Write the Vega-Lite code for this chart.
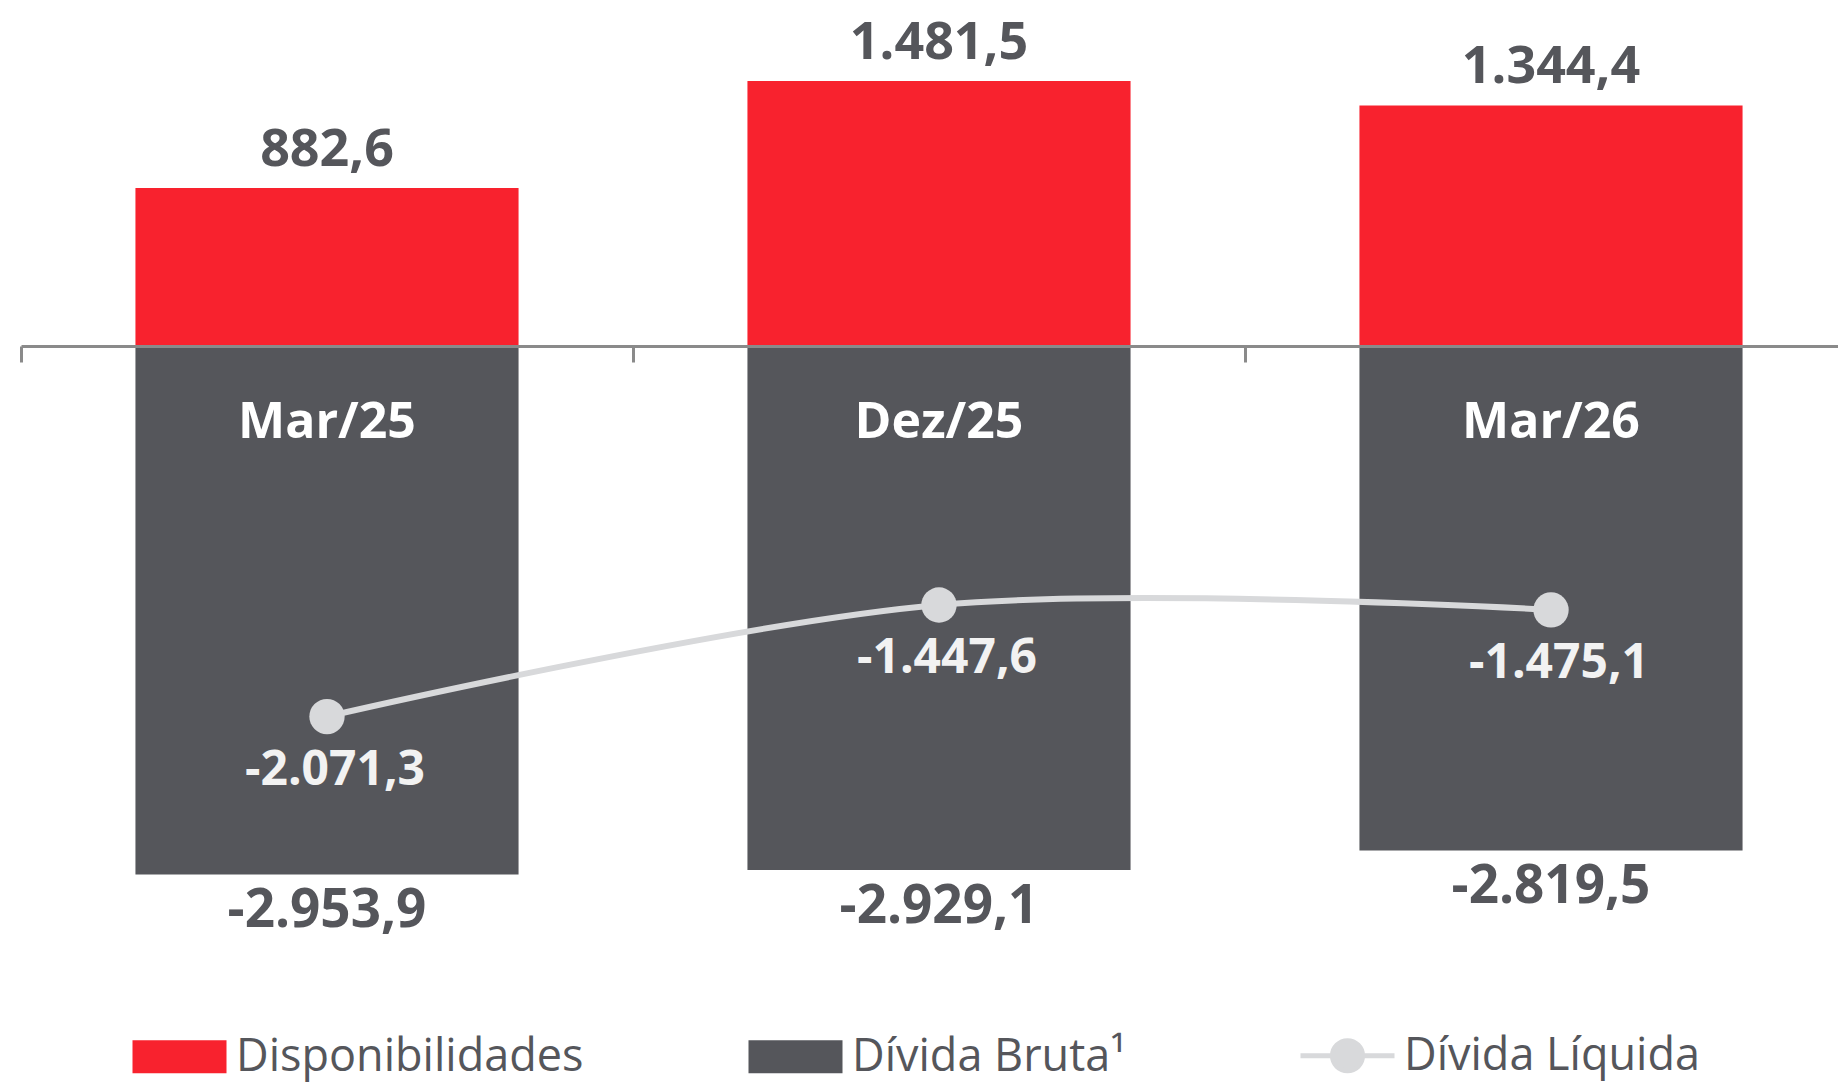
{
  "$schema": "https://vega.github.io/schema/vega-lite/v6.json",
  "width": 1838,
  "height": 1082,
  "autosize": {"type": "none"},
  "padding": 0,
  "background": "white",
  "config": {
    "view": {"stroke": null},
    "font": "Open Sans",
    "locale": {"number": {"decimal": ",", "thousands": ".", "grouping": [3], "currency": ["R$", ""], "minus": "-"}}
  },
  "data": {
    "values": [
      {"periodo": "Mar/25", "disp": 882.6, "bruta": -2953.9, "liquida": -2071.3},
      {"periodo": "Dez/25", "disp": 1481.5, "bruta": -2929.1, "liquida": -1447.6},
      {"periodo": "Mar/26", "disp": 1344.4, "bruta": -2819.5, "liquida": -1475.1}
    ]
  },
  "encoding": {
    "x": {
      "field": "periodo",
      "type": "nominal",
      "sort": null,
      "scale": {"range": [21, 1857], "paddingInner": 0, "paddingOuter": 0},
      "axis": {
        "title": null,
        "labels": false,
        "grid": false,
        "domainColor": "#8a8a8a",
        "domainWidth": 3,
        "tickColor": "#8a8a8a",
        "tickWidth": 3,
        "tickSize": 16,
        "bandPosition": 0,
        "offset": -736,
        "zindex": 1
      }
    }
  },
  "layer": [
    {
      "mark": {"type": "bar", "width": {"band": 0.626}},
      "encoding": {
        "y": {"field": "disp", "type": "quantitative", "scale": {"domain": [-4114, 1934], "nice": false, "zero": false}, "axis": null},
        "color": {
          "datum": "Disponibilidades",
          "scale": {"domain": ["Disponibilidades", "Dívida Bruta¹", "Dívida Líquida"], "range": ["#F8222E", "#55565B", "#D8D9DB"]},
          "legend": {
            "orient": "none",
            "legendX": 157,
            "legendY": 1033,
            "direction": "horizontal",
            "columns": 3,
            "columnPadding": 164,
            "padding": 0,
            "title": null,
            "symbolSize": 8836,
            "symbolType": "M-1,-0.35H1V0.35H-1Z",
            "labelFont": "Open Sans",
            "labelFontSize": 45,
            "labelColor": "#55565B",
            "labelOffset": 34,
            "labelLimit": 800,
            "encode": {
              "symbols": {
                "update": {
                  "shape": {"signal": "datum.value === 'Dívida Líquida' ? 'M-1,0H1M-0.32,0A0.32,0.32,0,1,1,0.32,0A0.32,0.32,0,1,1,-0.32,0Z' : 'M-1,-0.35H1V0.35H-1Z'"},
                  "fill": {"signal": "scale('color', datum.value)"},
                  "stroke": {"signal": "scale('color', datum.value)"},
                  "strokeWidth": {"signal": "datum.value === 'Dívida Líquida' ? 5 : 0"},
                  "opacity": {"value": 1}
                }
              }
            }
          }
        }
      }
    },
    {
      "mark": {"type": "bar", "width": {"band": 0.626}},
      "encoding": {
        "y": {"field": "bruta", "type": "quantitative"},
        "color": {"datum": "Dívida Bruta¹"}
      }
    },
    {
      "mark": {"type": "text", "font": "Open Sans", "fontWeight": "bold", "fontSize": 52, "color": "#55565B", "baseline": "middle", "dy": -38},
      "encoding": {
        "y": {"field": "disp", "type": "quantitative"},
        "text": {"field": "disp", "type": "quantitative", "format": ",.1f"}
      }
    },
    {
      "mark": {"type": "text", "font": "Open Sans", "fontWeight": "bold", "fontSize": 53, "color": "#55565B", "baseline": "middle", "dy": 37},
      "encoding": {
        "y": {"field": "bruta", "type": "quantitative"},
        "text": {"field": "bruta", "type": "quantitative", "format": ",.1f"}
      }
    },
    {
      "mark": {"type": "text", "font": "Open Sans", "fontWeight": "bold", "fontSize": 50, "color": "#FFFFFF", "baseline": "middle"},
      "encoding": {
        "y": {"datum": -430},
        "text": {"field": "periodo", "type": "nominal"}
      }
    },
    {
      "mark": {"type": "line", "interpolate": "cardinal", "strokeWidth": 6},
      "encoding": {
        "y": {"field": "liquida", "type": "quantitative"},
        "color": {"datum": "Dívida Líquida"}
      }
    },
    {
      "mark": {"type": "point", "filled": true, "size": 1250, "opacity": 1, "shape": "circle"},
      "encoding": {
        "y": {"field": "liquida", "type": "quantitative"},
        "color": {"datum": "Dívida Líquida"}
      }
    },
    {
      "mark": {"type": "text", "font": "Open Sans", "fontWeight": "bold", "fontSize": 48, "color": "#F2F2F2", "baseline": "middle", "dy": 54, "dx": 8},
      "encoding": {
        "y": {"field": "liquida", "type": "quantitative"},
        "text": {"field": "liquida", "type": "quantitative", "format": ",.1f"}
      }
    }
  ]
}
